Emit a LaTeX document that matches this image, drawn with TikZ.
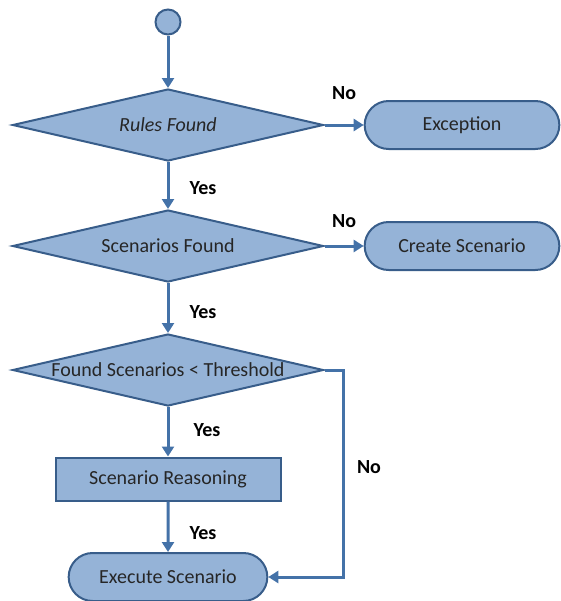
\documentclass[tikz,border=0pt]{standalone}
\usepackage{fontspec}
\setmainfont{Carlito}
\usetikzlibrary{shapes.geometric,shapes.misc,arrows.meta,positioning}
\definecolor{shapefill}{HTML}{95B3D7}
\definecolor{shapeline}{HTML}{385D8A}
\definecolor{flowline}{HTML}{4472A8}

\begin{document}
\begin{tikzpicture}[
  decision/.style={diamond, draw=shapeline, fill=shapefill, line width=1pt, aspect=4.3, inner sep=0pt, minimum width=155.5pt, minimum height=36pt, text=black!85},
  terminal/.style={rounded rectangle, draw=shapeline, fill=shapefill, line width=1pt, minimum width=104pt, minimum height=24pt, text=black!85},
  process/.style={rectangle, draw=shapeline, fill=shapefill, line width=1pt, minimum width=112.5pt, minimum height=21.5pt, text=black!85},
  startpt/.style={circle, draw=shapeline, fill=shapefill, line width=1pt, minimum size=12.5pt, inner sep=0pt},
  flow/.style={-{Triangle[length=5pt,width=6pt]}, draw=flowline, line width=1.5pt},
  lbl/.style={font=\bfseries, inner sep=1pt},
  font=\fontsize{10}{12}\selectfont
]
\useasboundingbox (0,0) rectangle (280.5pt,-300.5pt);
\node[startpt] (start) at (84pt,-11pt) {};
\node[decision, below of=start, node distance=51.5pt] (rules) {\itshape Rules Found};
\node[terminal, right of=rules, node distance=147pt] (exception) {Exception};
\node[decision, below of=rules, node distance=60.5pt] (found) {Scenarios Found};
\node[terminal, right of=found, node distance=147pt] (create) {Create Scenario};
\node[decision, below of=found, node distance=62pt] (thresh) {Found Scenarios < Threshold};
\node[process, below of=thresh, node distance=54.5pt] (reason) {Scenario Reasoning};
\node[terminal, below of=reason, node distance=49pt, minimum width=106pt] (execute) {Execute Scenario};
\coordinate[right=9.5pt of thresh.east] (bend);

\draw[flow] (start) -- (rules);
\draw[flow] (rules) -- node[lbl, above=11pt] (no1) {No} (exception);
\draw[flow] (rules) -- node[lbl, right=9pt, pos=0.56] (yes1) {Yes} (found);
\draw[flow] (found) -- node[lbl, above=7.5pt] (no2) {No} (create);
\draw[flow] (found) -- node[lbl, right=9pt, pos=0.58] (yes2) {Yes} (thresh);
\draw[flow] (thresh) -- node[lbl, right=11pt, pos=0.47] (yes3) {Yes} (reason);
\draw[flow] (reason) -- node[lbl, right=9pt, pos=0.62] (yes4) {Yes} (execute);
\draw[flow] (thresh.east) -- (bend) |- node[lbl, right=5pt, pos=0.234] (no3) {No} (execute.east);
\end{tikzpicture}
\end{document}
